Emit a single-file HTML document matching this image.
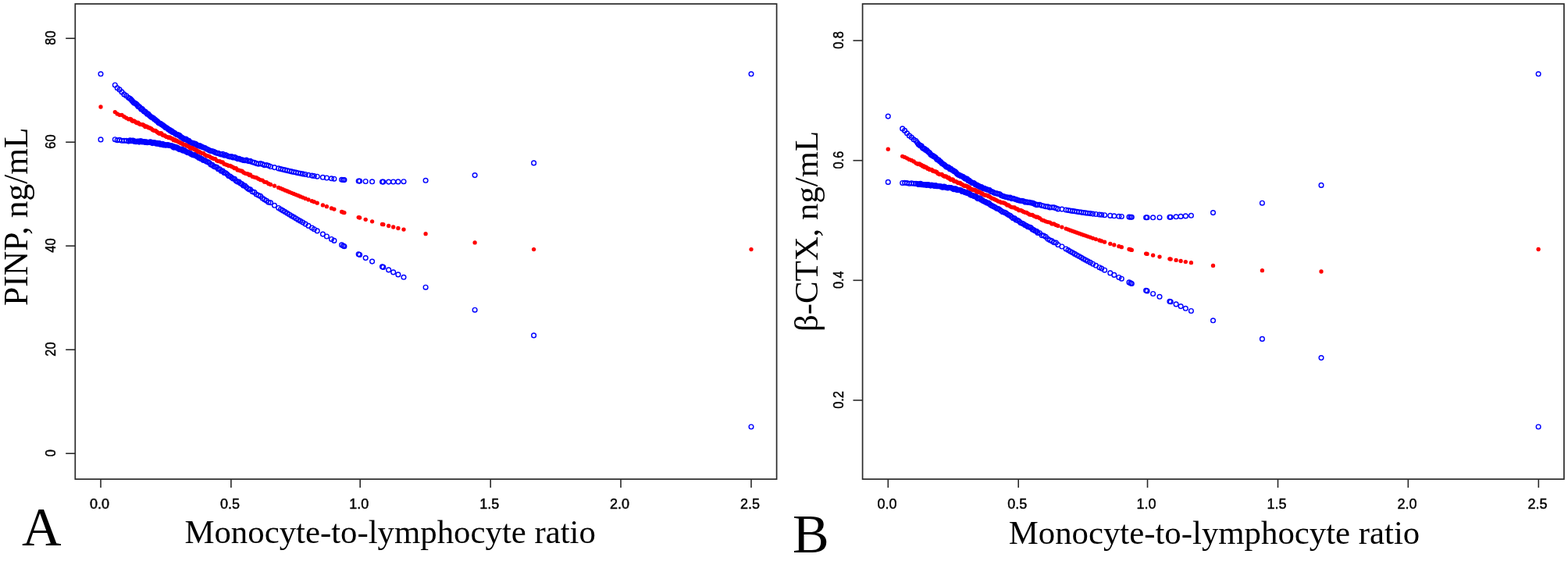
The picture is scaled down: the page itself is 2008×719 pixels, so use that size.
<!DOCTYPE html>
<html><head><meta charset="utf-8"><style>
html,body{margin:0;padding:0;background:#fff;}
body{width:2008px;height:719px;overflow:hidden;}
svg{display:block;}
.fr{fill:none;stroke:#2a2a2a;stroke-width:1.7;}
.tk{stroke:#2a2a2a;stroke-width:1.6;}
.xl{font-family:"Liberation Sans",Arial,sans-serif;font-size:18px;text-anchor:middle;fill:#000;stroke:#000;stroke-width:0.45;}
.yl{font-family:"Liberation Sans",Arial,sans-serif;font-size:18px;text-anchor:middle;fill:#000;stroke:#000;stroke-width:0.45;}
.ti{font-family:"Liberation Serif","Times New Roman",serif;font-size:43px;fill:#000;}
.lt{font-family:"Liberation Serif","Times New Roman",serif;font-size:70px;fill:#000;}
.bc{fill:none;stroke:#0000ff;stroke-width:1.4;}
.rd{fill:#ff0000;}
</style></head><body>
<svg width="2008" height="719" viewBox="0 0 2008 719">
<rect x="96.3" y="5.0" width="898.3" height="609.1" class="fr"/>
<line x1="129.0" y1="614.1" x2="129.0" y2="625" class="tk"/>
<text x="127.6" y="652" class="xl">0.0</text>
<line x1="295.9" y1="614.1" x2="295.9" y2="625" class="tk"/>
<text x="294.5" y="652" class="xl">0.5</text>
<line x1="461.2" y1="614.1" x2="461.2" y2="625" class="tk"/>
<text x="459.8" y="652" class="xl">1.0</text>
<line x1="628.2" y1="614.1" x2="628.2" y2="625" class="tk"/>
<text x="626.8" y="652" class="xl">1.5</text>
<line x1="795.0" y1="614.1" x2="795.0" y2="625" class="tk"/>
<text x="793.6" y="652" class="xl">2.0</text>
<line x1="962.0" y1="614.1" x2="962.0" y2="625" class="tk"/>
<text x="960.6" y="652" class="xl">2.5</text>
<line x1="84.2" y1="581.2" x2="96.3" y2="581.2" class="tk"/>
<text transform="translate(71.3 580.6) rotate(-90) scale(0.91 1)" class="yl">0</text>
<line x1="84.2" y1="448.2" x2="96.3" y2="448.2" class="tk"/>
<text transform="translate(71.3 447.6) rotate(-90) scale(0.91 1)" class="yl">20</text>
<line x1="84.2" y1="315.2" x2="96.3" y2="315.2" class="tk"/>
<text transform="translate(71.3 314.6) rotate(-90) scale(0.91 1)" class="yl">40</text>
<line x1="84.2" y1="182.2" x2="96.3" y2="182.2" class="tk"/>
<text transform="translate(71.3 181.6) rotate(-90) scale(0.91 1)" class="yl">60</text>
<line x1="84.2" y1="49.2" x2="96.3" y2="49.2" class="tk"/>
<text transform="translate(71.3 48.6) rotate(-90) scale(0.91 1)" class="yl">80</text>
<rect x="1104.6" y="5.0" width="898.3" height="609.1" class="fr"/>
<line x1="1137.3" y1="614.1" x2="1137.3" y2="625" class="tk"/>
<text x="1135.9" y="652" class="xl">0.0</text>
<line x1="1304.2" y1="614.1" x2="1304.2" y2="625" class="tk"/>
<text x="1302.8" y="652" class="xl">0.5</text>
<line x1="1469.5" y1="614.1" x2="1469.5" y2="625" class="tk"/>
<text x="1468.1" y="652" class="xl">1.0</text>
<line x1="1636.5" y1="614.1" x2="1636.5" y2="625" class="tk"/>
<text x="1635.1" y="652" class="xl">1.5</text>
<line x1="1803.3" y1="614.1" x2="1803.3" y2="625" class="tk"/>
<text x="1801.9" y="652" class="xl">2.0</text>
<line x1="1970.3" y1="614.1" x2="1970.3" y2="625" class="tk"/>
<text x="1968.9" y="652" class="xl">2.5</text>
<line x1="1092.5" y1="513.0" x2="1104.6" y2="513.0" class="tk"/>
<text transform="translate(1079.6 512.4) rotate(-90) scale(0.91 1)" class="yl">0.2</text>
<line x1="1092.5" y1="359.3" x2="1104.6" y2="359.3" class="tk"/>
<text transform="translate(1079.6 358.7) rotate(-90) scale(0.91 1)" class="yl">0.4</text>
<line x1="1092.5" y1="205.7" x2="1104.6" y2="205.7" class="tk"/>
<text transform="translate(1079.6 205.1) rotate(-90) scale(0.91 1)" class="yl">0.6</text>
<line x1="1092.5" y1="52.0" x2="1104.6" y2="52.0" class="tk"/>
<text transform="translate(1079.6 51.4) rotate(-90) scale(0.91 1)" class="yl">0.8</text>
<text class="ti" style="font-size:43.45px" transform="translate(34.8 392.0) rotate(-90)" textLength="94.4" lengthAdjust="spacingAndGlyphs">PINP</text>
<text class="ti" style="font-size:43.45px" transform="translate(34.8 301.0) rotate(-90)">, ng/mL</text>
<text class="ti" style="font-size:42.8px" transform="translate(1046.9 425) rotate(-90)">&#946;-CTX, ng/mL</text>
<text class="ti" style="font-size:42.8px" x="236.4" y="695.7">Monocyte-to-lymphocyte ratio</text>
<text class="ti" style="font-size:42.8px" x="1291.7" y="697.3">Monocyte-to-lymphocyte ratio</text>
<text class="lt" x="28" y="698.8">A</text>
<text class="lt" x="1015" y="707.6">B</text>
<g class="bc"><circle cx="147.3" cy="109.0" r="2.85"/><circle cx="150.2" cy="112.8" r="2.85"/><circle cx="153.1" cy="114.9" r="2.85"/><circle cx="156.0" cy="117.9" r="2.85"/><circle cx="158.9" cy="120.9" r="2.85"/><circle cx="161.8" cy="122.8" r="2.85"/><circle cx="164.6" cy="125.2" r="2.85"/><circle cx="166.5" cy="126.2" r="2.85"/><circle cx="167.8" cy="127.6" r="2.85"/><circle cx="169.1" cy="129.1" r="2.85"/><circle cx="170.4" cy="130.6" r="2.85"/><circle cx="171.7" cy="131.9" r="2.85"/><circle cx="173.0" cy="132.3" r="2.85"/><circle cx="174.3" cy="133.0" r="2.85"/><circle cx="175.6" cy="134.4" r="2.85"/><circle cx="176.9" cy="136.5" r="2.85"/><circle cx="178.2" cy="136.5" r="2.85"/><circle cx="179.5" cy="138.0" r="2.85"/><circle cx="180.8" cy="139.9" r="2.85"/><circle cx="182.1" cy="139.5" r="2.85"/><circle cx="183.4" cy="141.5" r="2.85"/><circle cx="184.7" cy="143.1" r="2.85"/><circle cx="186.0" cy="143.0" r="2.85"/><circle cx="187.3" cy="144.6" r="2.85"/><circle cx="188.6" cy="146.2" r="2.85"/><circle cx="189.9" cy="146.0" r="2.85"/><circle cx="191.2" cy="147.7" r="2.85"/><circle cx="192.5" cy="149.1" r="2.85"/><circle cx="193.8" cy="150.0" r="2.85"/><circle cx="195.1" cy="150.7" r="2.85"/><circle cx="196.4" cy="151.3" r="2.85"/><circle cx="197.7" cy="152.7" r="2.85"/><circle cx="199.0" cy="153.5" r="2.85"/><circle cx="200.3" cy="154.7" r="2.85"/><circle cx="201.6" cy="155.5" r="2.85"/><circle cx="202.9" cy="157.2" r="2.85"/><circle cx="204.2" cy="158.0" r="2.85"/><circle cx="205.5" cy="158.2" r="2.85"/><circle cx="206.8" cy="159.6" r="2.85"/><circle cx="208.1" cy="160.0" r="2.85"/><circle cx="209.4" cy="161.2" r="2.85"/><circle cx="210.7" cy="162.0" r="2.85"/><circle cx="212.0" cy="163.4" r="2.85"/><circle cx="213.3" cy="163.8" r="2.85"/><circle cx="214.6" cy="164.8" r="2.85"/><circle cx="215.9" cy="166.1" r="2.85"/><circle cx="217.2" cy="166.4" r="2.85"/><circle cx="218.5" cy="168.1" r="2.85"/><circle cx="219.8" cy="167.7" r="2.85"/><circle cx="221.1" cy="169.4" r="2.85"/><circle cx="222.4" cy="169.7" r="2.85"/><circle cx="223.7" cy="170.6" r="2.85"/><circle cx="225.0" cy="171.7" r="2.85"/><circle cx="226.3" cy="172.3" r="2.85"/><circle cx="227.6" cy="172.9" r="2.85"/><circle cx="228.9" cy="173.0" r="2.85"/><circle cx="230.2" cy="173.9" r="2.85"/><circle cx="231.5" cy="175.6" r="2.85"/><circle cx="232.8" cy="176.0" r="2.85"/><circle cx="234.1" cy="177.0" r="2.85"/><circle cx="235.4" cy="178.2" r="2.85"/><circle cx="236.7" cy="178.4" r="2.85"/><circle cx="238.0" cy="178.1" r="2.85"/><circle cx="239.3" cy="179.2" r="2.85"/><circle cx="240.6" cy="180.3" r="2.85"/><circle cx="241.9" cy="180.4" r="2.85"/><circle cx="243.2" cy="182.2" r="2.85"/><circle cx="244.5" cy="182.8" r="2.85"/><circle cx="245.8" cy="183.3" r="2.85"/><circle cx="247.1" cy="183.4" r="2.85"/><circle cx="248.4" cy="184.6" r="2.85"/><circle cx="249.7" cy="184.0" r="2.85"/><circle cx="251.0" cy="184.9" r="2.85"/><circle cx="252.3" cy="185.7" r="2.85"/><circle cx="253.6" cy="186.8" r="2.85"/><circle cx="254.9" cy="186.9" r="2.85"/><circle cx="256.2" cy="186.9" r="2.85"/><circle cx="257.5" cy="187.8" r="2.85"/><circle cx="258.8" cy="188.3" r="2.85"/><circle cx="260.5" cy="189.0" r="2.85"/><circle cx="262.4" cy="189.5" r="2.85"/><circle cx="264.3" cy="190.7" r="2.85"/><circle cx="266.2" cy="191.5" r="2.85"/><circle cx="268.1" cy="192.7" r="2.85"/><circle cx="270.0" cy="193.4" r="2.85"/><circle cx="271.9" cy="193.7" r="2.85"/><circle cx="273.8" cy="194.2" r="2.85"/><circle cx="275.7" cy="195.4" r="2.85"/><circle cx="277.6" cy="196.2" r="2.85"/><circle cx="279.5" cy="196.4" r="2.85"/><circle cx="281.4" cy="197.2" r="2.85"/><circle cx="283.3" cy="198.0" r="2.85"/><circle cx="285.2" cy="197.2" r="2.85"/><circle cx="287.1" cy="199.1" r="2.85"/><circle cx="289.0" cy="198.6" r="2.85"/><circle cx="290.9" cy="199.5" r="2.85"/><circle cx="292.8" cy="200.5" r="2.85"/><circle cx="294.7" cy="200.9" r="2.85"/><circle cx="296.6" cy="200.5" r="2.85"/><circle cx="298.5" cy="201.9" r="2.85"/><circle cx="300.4" cy="201.4" r="2.85"/><circle cx="302.3" cy="202.4" r="2.85"/><circle cx="304.2" cy="203.6" r="2.85"/><circle cx="306.1" cy="203.4" r="2.85"/><circle cx="308.0" cy="204.2" r="2.85"/><circle cx="309.9" cy="204.8" r="2.85"/><circle cx="311.8" cy="205.4" r="2.85"/><circle cx="313.7" cy="205.8" r="2.85"/><circle cx="315.6" cy="205.1" r="2.85"/><circle cx="317.5" cy="206.2" r="2.85"/><circle cx="319.4" cy="206.7" r="2.85"/><circle cx="320.5" cy="206.3" r="2.85"/><circle cx="323.1" cy="207.7" r="2.85"/><circle cx="325.7" cy="208.4" r="2.85"/><circle cx="328.3" cy="209.4" r="2.85"/><circle cx="330.9" cy="210.2" r="2.85"/><circle cx="333.5" cy="209.6" r="2.85"/><circle cx="336.1" cy="210.4" r="2.85"/><circle cx="338.7" cy="211.7" r="2.85"/><circle cx="341.3" cy="211.5" r="2.85"/><circle cx="343.9" cy="212.3" r="2.85"/><circle cx="346.5" cy="213.5" r="2.85"/><circle cx="351.5" cy="214.6" r="2.85"/><circle cx="356.7" cy="215.9" r="2.85"/><circle cx="359.5" cy="216.6" r="2.85"/><circle cx="362.3" cy="217.2" r="2.85"/><circle cx="365.1" cy="217.9" r="2.85"/><circle cx="367.9" cy="218.6" r="2.85"/><circle cx="370.7" cy="219.2" r="2.85"/><circle cx="373.5" cy="219.9" r="2.85"/><circle cx="376.3" cy="220.5" r="2.85"/><circle cx="379.1" cy="221.1" r="2.85"/><circle cx="381.9" cy="221.7" r="2.85"/><circle cx="384.7" cy="222.3" r="2.85"/><circle cx="387.8" cy="222.9" r="2.85"/><circle cx="391.1" cy="223.5" r="2.85"/><circle cx="395.0" cy="224.3" r="2.85"/><circle cx="399.5" cy="225.1" r="2.85"/><circle cx="402.3" cy="225.5" r="2.85"/><circle cx="406.2" cy="226.2" r="2.85"/><circle cx="413.4" cy="227.3" r="2.85"/><circle cx="418.4" cy="228.0" r="2.85"/><circle cx="424.5" cy="228.8" r="2.85"/><circle cx="427.9" cy="229.2" r="2.85"/><circle cx="437.6" cy="230.3" r="2.85"/><circle cx="439.6" cy="230.5" r="2.85"/><circle cx="440.9" cy="230.6" r="2.85"/><circle cx="459.2" cy="232.0" r="2.85"/><circle cx="460.6" cy="232.1" r="2.85"/><circle cx="468.2" cy="232.5" r="2.85"/><circle cx="476.6" cy="232.8" r="2.85"/><circle cx="489.5" cy="233.0" r="2.85"/><circle cx="490.8" cy="233.1" r="2.85"/><circle cx="497.7" cy="233.1" r="2.85"/><circle cx="503.7" cy="233.0" r="2.85"/><circle cx="509.9" cy="232.9" r="2.85"/><circle cx="517.0" cy="232.7" r="2.85"/><circle cx="545.1" cy="231.3" r="2.85"/><circle cx="129.0" cy="94.8" r="2.85"/><circle cx="608.1" cy="224.6" r="2.85"/><circle cx="683.6" cy="208.9" r="2.85"/><circle cx="962.0" cy="94.8" r="2.85"/><circle cx="147.3" cy="178.7" r="2.85"/><circle cx="150.2" cy="179.8" r="2.85"/><circle cx="153.1" cy="179.4" r="2.85"/><circle cx="156.0" cy="180.3" r="2.85"/><circle cx="158.9" cy="180.2" r="2.85"/><circle cx="161.8" cy="180.2" r="2.85"/><circle cx="164.6" cy="181.1" r="2.85"/><circle cx="166.5" cy="179.9" r="2.85"/><circle cx="167.8" cy="180.7" r="2.85"/><circle cx="169.1" cy="180.4" r="2.85"/><circle cx="170.4" cy="180.1" r="2.85"/><circle cx="171.7" cy="181.3" r="2.85"/><circle cx="173.0" cy="181.1" r="2.85"/><circle cx="174.3" cy="181.7" r="2.85"/><circle cx="175.6" cy="181.3" r="2.85"/><circle cx="176.9" cy="181.0" r="2.85"/><circle cx="178.2" cy="182.1" r="2.85"/><circle cx="179.5" cy="180.8" r="2.85"/><circle cx="180.8" cy="180.8" r="2.85"/><circle cx="182.1" cy="182.0" r="2.85"/><circle cx="183.4" cy="181.5" r="2.85"/><circle cx="184.7" cy="181.6" r="2.85"/><circle cx="186.0" cy="182.5" r="2.85"/><circle cx="187.3" cy="181.8" r="2.85"/><circle cx="188.6" cy="182.8" r="2.85"/><circle cx="189.9" cy="182.5" r="2.85"/><circle cx="191.2" cy="182.2" r="2.85"/><circle cx="192.5" cy="181.9" r="2.85"/><circle cx="193.8" cy="182.3" r="2.85"/><circle cx="195.1" cy="183.6" r="2.85"/><circle cx="196.4" cy="182.9" r="2.85"/><circle cx="197.7" cy="182.7" r="2.85"/><circle cx="199.0" cy="183.1" r="2.85"/><circle cx="200.3" cy="184.2" r="2.85"/><circle cx="201.6" cy="183.3" r="2.85"/><circle cx="202.9" cy="184.4" r="2.85"/><circle cx="204.2" cy="183.6" r="2.85"/><circle cx="205.5" cy="185.2" r="2.85"/><circle cx="206.8" cy="184.7" r="2.85"/><circle cx="208.1" cy="184.2" r="2.85"/><circle cx="209.4" cy="185.9" r="2.85"/><circle cx="210.7" cy="185.2" r="2.85"/><circle cx="212.0" cy="186.1" r="2.85"/><circle cx="213.3" cy="186.0" r="2.85"/><circle cx="214.6" cy="185.6" r="2.85"/><circle cx="215.9" cy="186.0" r="2.85"/><circle cx="217.2" cy="186.4" r="2.85"/><circle cx="218.5" cy="186.7" r="2.85"/><circle cx="219.8" cy="186.9" r="2.85"/><circle cx="221.1" cy="187.2" r="2.85"/><circle cx="222.4" cy="189.1" r="2.85"/><circle cx="223.7" cy="188.1" r="2.85"/><circle cx="225.0" cy="189.1" r="2.85"/><circle cx="226.3" cy="188.9" r="2.85"/><circle cx="227.6" cy="189.5" r="2.85"/><circle cx="228.9" cy="190.9" r="2.85"/><circle cx="230.2" cy="191.6" r="2.85"/><circle cx="231.5" cy="191.3" r="2.85"/><circle cx="232.8" cy="191.1" r="2.85"/><circle cx="234.1" cy="193.1" r="2.85"/><circle cx="235.4" cy="192.1" r="2.85"/><circle cx="236.7" cy="193.2" r="2.85"/><circle cx="238.0" cy="194.0" r="2.85"/><circle cx="239.3" cy="195.1" r="2.85"/><circle cx="240.6" cy="195.6" r="2.85"/><circle cx="241.9" cy="195.8" r="2.85"/><circle cx="243.2" cy="196.0" r="2.85"/><circle cx="244.5" cy="197.3" r="2.85"/><circle cx="245.8" cy="198.0" r="2.85"/><circle cx="247.1" cy="198.6" r="2.85"/><circle cx="248.4" cy="199.0" r="2.85"/><circle cx="249.7" cy="198.6" r="2.85"/><circle cx="251.0" cy="199.6" r="2.85"/><circle cx="252.3" cy="200.6" r="2.85"/><circle cx="253.6" cy="201.3" r="2.85"/><circle cx="254.9" cy="202.5" r="2.85"/><circle cx="256.2" cy="202.2" r="2.85"/><circle cx="257.5" cy="203.6" r="2.85"/><circle cx="258.8" cy="203.8" r="2.85"/><circle cx="260.5" cy="205.4" r="2.85"/><circle cx="262.4" cy="205.5" r="2.85"/><circle cx="264.3" cy="207.1" r="2.85"/><circle cx="266.2" cy="207.6" r="2.85"/><circle cx="268.1" cy="208.8" r="2.85"/><circle cx="270.0" cy="211.1" r="2.85"/><circle cx="271.9" cy="211.3" r="2.85"/><circle cx="273.8" cy="213.3" r="2.85"/><circle cx="275.7" cy="213.9" r="2.85"/><circle cx="277.6" cy="214.3" r="2.85"/><circle cx="279.5" cy="216.7" r="2.85"/><circle cx="281.4" cy="216.7" r="2.85"/><circle cx="283.3" cy="219.2" r="2.85"/><circle cx="285.2" cy="219.1" r="2.85"/><circle cx="287.1" cy="221.4" r="2.85"/><circle cx="289.0" cy="221.8" r="2.85"/><circle cx="290.9" cy="223.3" r="2.85"/><circle cx="292.8" cy="225.5" r="2.85"/><circle cx="294.7" cy="226.0" r="2.85"/><circle cx="296.6" cy="227.6" r="2.85"/><circle cx="298.5" cy="229.0" r="2.85"/><circle cx="300.4" cy="229.2" r="2.85"/><circle cx="302.3" cy="231.7" r="2.85"/><circle cx="304.2" cy="233.1" r="2.85"/><circle cx="306.1" cy="233.1" r="2.85"/><circle cx="308.0" cy="235.0" r="2.85"/><circle cx="309.9" cy="235.9" r="2.85"/><circle cx="311.8" cy="237.9" r="2.85"/><circle cx="313.7" cy="238.0" r="2.85"/><circle cx="315.6" cy="240.1" r="2.85"/><circle cx="317.5" cy="241.8" r="2.85"/><circle cx="319.4" cy="243.0" r="2.85"/><circle cx="320.5" cy="242.7" r="2.85"/><circle cx="323.1" cy="245.6" r="2.85"/><circle cx="325.7" cy="246.4" r="2.85"/><circle cx="328.3" cy="249.0" r="2.85"/><circle cx="330.9" cy="250.2" r="2.85"/><circle cx="333.5" cy="251.4" r="2.85"/><circle cx="336.1" cy="254.0" r="2.85"/><circle cx="338.7" cy="255.7" r="2.85"/><circle cx="341.3" cy="257.2" r="2.85"/><circle cx="343.9" cy="259.3" r="2.85"/><circle cx="346.5" cy="259.8" r="2.85"/><circle cx="351.5" cy="263.3" r="2.85"/><circle cx="356.7" cy="266.5" r="2.85"/><circle cx="359.5" cy="268.2" r="2.85"/><circle cx="362.3" cy="269.9" r="2.85"/><circle cx="365.1" cy="271.6" r="2.85"/><circle cx="367.9" cy="273.3" r="2.85"/><circle cx="370.7" cy="275.0" r="2.85"/><circle cx="373.5" cy="276.7" r="2.85"/><circle cx="376.3" cy="278.3" r="2.85"/><circle cx="379.1" cy="280.0" r="2.85"/><circle cx="381.9" cy="281.7" r="2.85"/><circle cx="384.7" cy="283.3" r="2.85"/><circle cx="387.8" cy="285.1" r="2.85"/><circle cx="391.1" cy="287.1" r="2.85"/><circle cx="395.0" cy="289.4" r="2.85"/><circle cx="399.5" cy="292.0" r="2.85"/><circle cx="402.3" cy="293.7" r="2.85"/><circle cx="406.2" cy="295.9" r="2.85"/><circle cx="413.4" cy="300.1" r="2.85"/><circle cx="418.4" cy="303.0" r="2.85"/><circle cx="424.5" cy="306.5" r="2.85"/><circle cx="427.9" cy="308.4" r="2.85"/><circle cx="437.6" cy="313.9" r="2.85"/><circle cx="439.6" cy="315.0" r="2.85"/><circle cx="440.9" cy="315.7" r="2.85"/><circle cx="459.2" cy="325.8" r="2.85"/><circle cx="460.6" cy="326.5" r="2.85"/><circle cx="468.2" cy="330.6" r="2.85"/><circle cx="476.6" cy="335.1" r="2.85"/><circle cx="489.5" cy="341.8" r="2.85"/><circle cx="490.8" cy="342.4" r="2.85"/><circle cx="497.7" cy="345.9" r="2.85"/><circle cx="503.7" cy="348.9" r="2.85"/><circle cx="509.9" cy="351.9" r="2.85"/><circle cx="517.0" cy="355.3" r="2.85"/><circle cx="545.1" cy="368.2" r="2.85"/><circle cx="129.0" cy="178.9" r="2.85"/><circle cx="608.1" cy="397.2" r="2.85"/><circle cx="683.6" cy="429.9" r="2.85"/><circle cx="962.0" cy="547.0" r="2.85"/><circle cx="1155.7" cy="164.9" r="2.85"/><circle cx="1158.6" cy="167.4" r="2.85"/><circle cx="1161.5" cy="170.8" r="2.85"/><circle cx="1164.4" cy="173.9" r="2.85"/><circle cx="1167.3" cy="176.1" r="2.85"/><circle cx="1170.2" cy="178.8" r="2.85"/><circle cx="1173.0" cy="180.6" r="2.85"/><circle cx="1174.9" cy="183.1" r="2.85"/><circle cx="1176.2" cy="184.9" r="2.85"/><circle cx="1177.5" cy="185.9" r="2.85"/><circle cx="1178.8" cy="186.9" r="2.85"/><circle cx="1180.1" cy="187.0" r="2.85"/><circle cx="1181.4" cy="189.4" r="2.85"/><circle cx="1182.7" cy="190.5" r="2.85"/><circle cx="1184.0" cy="190.5" r="2.85"/><circle cx="1185.3" cy="192.3" r="2.85"/><circle cx="1186.6" cy="192.4" r="2.85"/><circle cx="1187.9" cy="193.7" r="2.85"/><circle cx="1189.2" cy="195.1" r="2.85"/><circle cx="1190.5" cy="195.9" r="2.85"/><circle cx="1191.8" cy="197.9" r="2.85"/><circle cx="1193.1" cy="199.1" r="2.85"/><circle cx="1194.4" cy="199.4" r="2.85"/><circle cx="1195.7" cy="200.4" r="2.85"/><circle cx="1197.0" cy="201.1" r="2.85"/><circle cx="1198.3" cy="202.1" r="2.85"/><circle cx="1199.6" cy="204.1" r="2.85"/><circle cx="1200.9" cy="204.9" r="2.85"/><circle cx="1202.2" cy="205.0" r="2.85"/><circle cx="1203.5" cy="206.7" r="2.85"/><circle cx="1204.8" cy="207.6" r="2.85"/><circle cx="1206.1" cy="209.3" r="2.85"/><circle cx="1207.4" cy="210.0" r="2.85"/><circle cx="1208.7" cy="210.8" r="2.85"/><circle cx="1210.0" cy="211.7" r="2.85"/><circle cx="1211.3" cy="213.2" r="2.85"/><circle cx="1212.6" cy="214.2" r="2.85"/><circle cx="1213.9" cy="214.1" r="2.85"/><circle cx="1215.2" cy="214.9" r="2.85"/><circle cx="1216.5" cy="216.7" r="2.85"/><circle cx="1217.8" cy="216.4" r="2.85"/><circle cx="1219.1" cy="217.8" r="2.85"/><circle cx="1220.4" cy="218.2" r="2.85"/><circle cx="1221.7" cy="219.4" r="2.85"/><circle cx="1223.0" cy="219.9" r="2.85"/><circle cx="1224.3" cy="221.1" r="2.85"/><circle cx="1225.6" cy="222.8" r="2.85"/><circle cx="1226.9" cy="223.8" r="2.85"/><circle cx="1228.2" cy="224.4" r="2.85"/><circle cx="1229.5" cy="224.9" r="2.85"/><circle cx="1230.8" cy="225.8" r="2.85"/><circle cx="1232.1" cy="226.1" r="2.85"/><circle cx="1233.4" cy="226.6" r="2.85"/><circle cx="1234.7" cy="227.8" r="2.85"/><circle cx="1236.0" cy="229.1" r="2.85"/><circle cx="1237.3" cy="228.8" r="2.85"/><circle cx="1238.6" cy="229.4" r="2.85"/><circle cx="1239.9" cy="231.4" r="2.85"/><circle cx="1241.2" cy="231.4" r="2.85"/><circle cx="1242.5" cy="232.7" r="2.85"/><circle cx="1243.8" cy="233.5" r="2.85"/><circle cx="1245.1" cy="234.5" r="2.85"/><circle cx="1246.4" cy="234.4" r="2.85"/><circle cx="1247.7" cy="235.0" r="2.85"/><circle cx="1249.0" cy="236.4" r="2.85"/><circle cx="1250.3" cy="237.0" r="2.85"/><circle cx="1251.6" cy="237.4" r="2.85"/><circle cx="1252.9" cy="238.4" r="2.85"/><circle cx="1254.2" cy="238.7" r="2.85"/><circle cx="1255.5" cy="239.9" r="2.85"/><circle cx="1256.8" cy="239.5" r="2.85"/><circle cx="1258.1" cy="240.7" r="2.85"/><circle cx="1259.4" cy="241.7" r="2.85"/><circle cx="1260.7" cy="241.3" r="2.85"/><circle cx="1262.0" cy="242.3" r="2.85"/><circle cx="1263.3" cy="242.5" r="2.85"/><circle cx="1264.6" cy="243.2" r="2.85"/><circle cx="1265.9" cy="243.2" r="2.85"/><circle cx="1267.2" cy="243.6" r="2.85"/><circle cx="1268.9" cy="245.5" r="2.85"/><circle cx="1270.8" cy="245.8" r="2.85"/><circle cx="1272.7" cy="246.8" r="2.85"/><circle cx="1274.6" cy="247.7" r="2.85"/><circle cx="1276.5" cy="247.9" r="2.85"/><circle cx="1278.4" cy="248.5" r="2.85"/><circle cx="1280.3" cy="248.9" r="2.85"/><circle cx="1282.2" cy="250.5" r="2.85"/><circle cx="1284.1" cy="251.2" r="2.85"/><circle cx="1286.0" cy="251.7" r="2.85"/><circle cx="1287.9" cy="252.5" r="2.85"/><circle cx="1289.8" cy="252.7" r="2.85"/><circle cx="1291.7" cy="253.4" r="2.85"/><circle cx="1293.6" cy="253.1" r="2.85"/><circle cx="1295.5" cy="254.6" r="2.85"/><circle cx="1297.4" cy="254.4" r="2.85"/><circle cx="1299.3" cy="255.1" r="2.85"/><circle cx="1301.2" cy="255.5" r="2.85"/><circle cx="1303.1" cy="256.4" r="2.85"/><circle cx="1305.0" cy="257.0" r="2.85"/><circle cx="1306.9" cy="257.3" r="2.85"/><circle cx="1308.8" cy="257.4" r="2.85"/><circle cx="1310.7" cy="257.7" r="2.85"/><circle cx="1312.6" cy="259.1" r="2.85"/><circle cx="1314.5" cy="258.7" r="2.85"/><circle cx="1316.4" cy="259.4" r="2.85"/><circle cx="1318.3" cy="259.2" r="2.85"/><circle cx="1320.2" cy="260.0" r="2.85"/><circle cx="1322.1" cy="260.1" r="2.85"/><circle cx="1324.0" cy="260.9" r="2.85"/><circle cx="1325.9" cy="261.9" r="2.85"/><circle cx="1327.8" cy="262.7" r="2.85"/><circle cx="1328.9" cy="262.4" r="2.85"/><circle cx="1331.5" cy="262.3" r="2.85"/><circle cx="1334.1" cy="263.5" r="2.85"/><circle cx="1336.7" cy="264.0" r="2.85"/><circle cx="1339.3" cy="264.8" r="2.85"/><circle cx="1341.9" cy="264.9" r="2.85"/><circle cx="1344.5" cy="266.0" r="2.85"/><circle cx="1347.1" cy="265.7" r="2.85"/><circle cx="1349.7" cy="265.9" r="2.85"/><circle cx="1352.3" cy="266.8" r="2.85"/><circle cx="1354.9" cy="267.9" r="2.85"/><circle cx="1359.9" cy="268.1" r="2.85"/><circle cx="1365.1" cy="269.0" r="2.85"/><circle cx="1367.9" cy="269.5" r="2.85"/><circle cx="1370.7" cy="270.0" r="2.85"/><circle cx="1373.5" cy="270.4" r="2.85"/><circle cx="1376.3" cy="270.8" r="2.85"/><circle cx="1379.1" cy="271.3" r="2.85"/><circle cx="1381.9" cy="271.7" r="2.85"/><circle cx="1384.7" cy="272.1" r="2.85"/><circle cx="1387.5" cy="272.5" r="2.85"/><circle cx="1390.3" cy="272.9" r="2.85"/><circle cx="1393.1" cy="273.2" r="2.85"/><circle cx="1396.2" cy="273.6" r="2.85"/><circle cx="1399.5" cy="274.1" r="2.85"/><circle cx="1403.4" cy="274.5" r="2.85"/><circle cx="1407.9" cy="275.0" r="2.85"/><circle cx="1410.7" cy="275.3" r="2.85"/><circle cx="1414.6" cy="275.7" r="2.85"/><circle cx="1421.8" cy="276.4" r="2.85"/><circle cx="1426.8" cy="276.8" r="2.85"/><circle cx="1432.9" cy="277.3" r="2.85"/><circle cx="1436.3" cy="277.5" r="2.85"/><circle cx="1446.0" cy="278.1" r="2.85"/><circle cx="1448.0" cy="278.2" r="2.85"/><circle cx="1449.3" cy="278.2" r="2.85"/><circle cx="1467.6" cy="278.7" r="2.85"/><circle cx="1469.0" cy="278.8" r="2.85"/><circle cx="1476.6" cy="278.8" r="2.85"/><circle cx="1485.0" cy="278.7" r="2.85"/><circle cx="1497.9" cy="278.2" r="2.85"/><circle cx="1499.2" cy="278.2" r="2.85"/><circle cx="1506.1" cy="277.8" r="2.85"/><circle cx="1512.1" cy="277.4" r="2.85"/><circle cx="1518.3" cy="276.9" r="2.85"/><circle cx="1525.4" cy="276.3" r="2.85"/><circle cx="1553.5" cy="272.6" r="2.85"/><circle cx="1137.3" cy="149.1" r="2.85"/><circle cx="1616.4" cy="260.2" r="2.85"/><circle cx="1692.0" cy="237.4" r="2.85"/><circle cx="1970.1" cy="94.8" r="2.85"/><circle cx="1155.7" cy="234.5" r="2.85"/><circle cx="1158.6" cy="234.3" r="2.85"/><circle cx="1161.5" cy="234.6" r="2.85"/><circle cx="1164.4" cy="235.3" r="2.85"/><circle cx="1167.3" cy="234.9" r="2.85"/><circle cx="1170.2" cy="235.2" r="2.85"/><circle cx="1173.0" cy="235.4" r="2.85"/><circle cx="1174.9" cy="235.6" r="2.85"/><circle cx="1176.2" cy="236.5" r="2.85"/><circle cx="1177.5" cy="236.1" r="2.85"/><circle cx="1178.8" cy="235.4" r="2.85"/><circle cx="1180.1" cy="236.7" r="2.85"/><circle cx="1181.4" cy="236.4" r="2.85"/><circle cx="1182.7" cy="237.0" r="2.85"/><circle cx="1184.0" cy="236.7" r="2.85"/><circle cx="1185.3" cy="236.5" r="2.85"/><circle cx="1186.6" cy="237.5" r="2.85"/><circle cx="1187.9" cy="236.5" r="2.85"/><circle cx="1189.2" cy="236.9" r="2.85"/><circle cx="1190.5" cy="237.3" r="2.85"/><circle cx="1191.8" cy="238.1" r="2.85"/><circle cx="1193.1" cy="237.0" r="2.85"/><circle cx="1194.4" cy="237.5" r="2.85"/><circle cx="1195.7" cy="238.0" r="2.85"/><circle cx="1197.0" cy="238.4" r="2.85"/><circle cx="1198.3" cy="237.6" r="2.85"/><circle cx="1199.6" cy="238.8" r="2.85"/><circle cx="1200.9" cy="238.6" r="2.85"/><circle cx="1202.2" cy="238.7" r="2.85"/><circle cx="1203.5" cy="238.7" r="2.85"/><circle cx="1204.8" cy="238.7" r="2.85"/><circle cx="1206.1" cy="239.8" r="2.85"/><circle cx="1207.4" cy="240.2" r="2.85"/><circle cx="1208.7" cy="239.1" r="2.85"/><circle cx="1210.0" cy="239.3" r="2.85"/><circle cx="1211.3" cy="240.3" r="2.85"/><circle cx="1212.6" cy="240.6" r="2.85"/><circle cx="1213.9" cy="241.0" r="2.85"/><circle cx="1215.2" cy="240.4" r="2.85"/><circle cx="1216.5" cy="240.5" r="2.85"/><circle cx="1217.8" cy="240.5" r="2.85"/><circle cx="1219.1" cy="241.3" r="2.85"/><circle cx="1220.4" cy="241.9" r="2.85"/><circle cx="1221.7" cy="242.7" r="2.85"/><circle cx="1223.0" cy="241.7" r="2.85"/><circle cx="1224.3" cy="242.1" r="2.85"/><circle cx="1225.6" cy="243.4" r="2.85"/><circle cx="1226.9" cy="243.8" r="2.85"/><circle cx="1228.2" cy="243.3" r="2.85"/><circle cx="1229.5" cy="243.6" r="2.85"/><circle cx="1230.8" cy="244.0" r="2.85"/><circle cx="1232.1" cy="245.4" r="2.85"/><circle cx="1233.4" cy="245.3" r="2.85"/><circle cx="1234.7" cy="245.7" r="2.85"/><circle cx="1236.0" cy="246.8" r="2.85"/><circle cx="1237.3" cy="246.4" r="2.85"/><circle cx="1238.6" cy="247.6" r="2.85"/><circle cx="1239.9" cy="247.4" r="2.85"/><circle cx="1241.2" cy="247.9" r="2.85"/><circle cx="1242.5" cy="249.4" r="2.85"/><circle cx="1243.8" cy="250.2" r="2.85"/><circle cx="1245.1" cy="250.2" r="2.85"/><circle cx="1246.4" cy="250.7" r="2.85"/><circle cx="1247.7" cy="251.8" r="2.85"/><circle cx="1249.0" cy="251.4" r="2.85"/><circle cx="1250.3" cy="252.3" r="2.85"/><circle cx="1251.6" cy="254.0" r="2.85"/><circle cx="1252.9" cy="254.7" r="2.85"/><circle cx="1254.2" cy="253.8" r="2.85"/><circle cx="1255.5" cy="254.4" r="2.85"/><circle cx="1256.8" cy="256.3" r="2.85"/><circle cx="1258.1" cy="256.5" r="2.85"/><circle cx="1259.4" cy="257.7" r="2.85"/><circle cx="1260.7" cy="258.2" r="2.85"/><circle cx="1262.0" cy="258.5" r="2.85"/><circle cx="1263.3" cy="259.7" r="2.85"/><circle cx="1264.6" cy="260.2" r="2.85"/><circle cx="1265.9" cy="260.0" r="2.85"/><circle cx="1267.2" cy="261.4" r="2.85"/><circle cx="1268.9" cy="263.0" r="2.85"/><circle cx="1270.8" cy="263.9" r="2.85"/><circle cx="1272.7" cy="264.8" r="2.85"/><circle cx="1274.6" cy="265.8" r="2.85"/><circle cx="1276.5" cy="267.3" r="2.85"/><circle cx="1278.4" cy="267.5" r="2.85"/><circle cx="1280.3" cy="268.8" r="2.85"/><circle cx="1282.2" cy="270.3" r="2.85"/><circle cx="1284.1" cy="271.7" r="2.85"/><circle cx="1286.0" cy="272.0" r="2.85"/><circle cx="1287.9" cy="272.9" r="2.85"/><circle cx="1289.8" cy="274.2" r="2.85"/><circle cx="1291.7" cy="275.6" r="2.85"/><circle cx="1293.6" cy="276.2" r="2.85"/><circle cx="1295.5" cy="278.1" r="2.85"/><circle cx="1297.4" cy="279.7" r="2.85"/><circle cx="1299.3" cy="279.9" r="2.85"/><circle cx="1301.2" cy="282.0" r="2.85"/><circle cx="1303.1" cy="282.3" r="2.85"/><circle cx="1305.0" cy="283.6" r="2.85"/><circle cx="1306.9" cy="285.5" r="2.85"/><circle cx="1308.8" cy="286.2" r="2.85"/><circle cx="1310.7" cy="287.0" r="2.85"/><circle cx="1312.6" cy="288.5" r="2.85"/><circle cx="1314.5" cy="289.2" r="2.85"/><circle cx="1316.4" cy="290.7" r="2.85"/><circle cx="1318.3" cy="291.0" r="2.85"/><circle cx="1320.2" cy="291.9" r="2.85"/><circle cx="1322.1" cy="293.9" r="2.85"/><circle cx="1324.0" cy="294.9" r="2.85"/><circle cx="1325.9" cy="296.0" r="2.85"/><circle cx="1327.8" cy="296.5" r="2.85"/><circle cx="1328.9" cy="298.5" r="2.85"/><circle cx="1331.5" cy="298.7" r="2.85"/><circle cx="1334.1" cy="301.6" r="2.85"/><circle cx="1336.7" cy="302.1" r="2.85"/><circle cx="1339.3" cy="303.6" r="2.85"/><circle cx="1341.9" cy="306.2" r="2.85"/><circle cx="1344.5" cy="307.8" r="2.85"/><circle cx="1347.1" cy="308.9" r="2.85"/><circle cx="1349.7" cy="310.8" r="2.85"/><circle cx="1352.3" cy="311.1" r="2.85"/><circle cx="1354.9" cy="313.7" r="2.85"/><circle cx="1359.9" cy="316.0" r="2.85"/><circle cx="1365.1" cy="319.0" r="2.85"/><circle cx="1367.9" cy="320.6" r="2.85"/><circle cx="1370.7" cy="322.2" r="2.85"/><circle cx="1373.5" cy="323.8" r="2.85"/><circle cx="1376.3" cy="325.4" r="2.85"/><circle cx="1379.1" cy="327.0" r="2.85"/><circle cx="1381.9" cy="328.5" r="2.85"/><circle cx="1384.7" cy="330.1" r="2.85"/><circle cx="1387.5" cy="331.7" r="2.85"/><circle cx="1390.3" cy="333.2" r="2.85"/><circle cx="1393.1" cy="334.7" r="2.85"/><circle cx="1396.2" cy="336.4" r="2.85"/><circle cx="1399.5" cy="338.2" r="2.85"/><circle cx="1403.4" cy="340.3" r="2.85"/><circle cx="1407.9" cy="342.7" r="2.85"/><circle cx="1410.7" cy="344.1" r="2.85"/><circle cx="1414.6" cy="346.2" r="2.85"/><circle cx="1421.8" cy="349.9" r="2.85"/><circle cx="1426.8" cy="352.4" r="2.85"/><circle cx="1432.9" cy="355.5" r="2.85"/><circle cx="1436.3" cy="357.2" r="2.85"/><circle cx="1446.0" cy="361.9" r="2.85"/><circle cx="1448.0" cy="362.9" r="2.85"/><circle cx="1449.3" cy="363.5" r="2.85"/><circle cx="1467.6" cy="372.3" r="2.85"/><circle cx="1469.0" cy="372.9" r="2.85"/><circle cx="1476.6" cy="376.5" r="2.85"/><circle cx="1485.0" cy="380.3" r="2.85"/><circle cx="1497.9" cy="386.2" r="2.85"/><circle cx="1499.2" cy="386.8" r="2.85"/><circle cx="1506.1" cy="389.9" r="2.85"/><circle cx="1512.1" cy="392.6" r="2.85"/><circle cx="1518.3" cy="395.3" r="2.85"/><circle cx="1525.4" cy="398.5" r="2.85"/><circle cx="1553.5" cy="410.8" r="2.85"/><circle cx="1137.3" cy="233.4" r="2.85"/><circle cx="1616.4" cy="434.4" r="2.85"/><circle cx="1692.0" cy="458.6" r="2.85"/><circle cx="1970.1" cy="547.0" r="2.85"/></g>
<g class="rd"><circle cx="147.3" cy="143.6" r="2.65"/><circle cx="150.2" cy="145.9" r="2.65"/><circle cx="153.1" cy="147.3" r="2.65"/><circle cx="156.0" cy="147.3" r="2.65"/><circle cx="158.9" cy="149.5" r="2.65"/><circle cx="161.8" cy="151.2" r="2.65"/><circle cx="164.6" cy="152.8" r="2.65"/><circle cx="166.5" cy="152.5" r="2.65"/><circle cx="167.8" cy="153.0" r="2.65"/><circle cx="169.1" cy="154.7" r="2.65"/><circle cx="170.4" cy="155.4" r="2.65"/><circle cx="171.7" cy="154.8" r="2.65"/><circle cx="173.0" cy="155.8" r="2.65"/><circle cx="174.3" cy="156.9" r="2.65"/><circle cx="175.6" cy="157.7" r="2.65"/><circle cx="176.9" cy="157.2" r="2.65"/><circle cx="178.2" cy="158.6" r="2.65"/><circle cx="179.5" cy="159.4" r="2.65"/><circle cx="180.8" cy="159.6" r="2.65"/><circle cx="182.1" cy="159.6" r="2.65"/><circle cx="183.4" cy="160.0" r="2.65"/><circle cx="184.7" cy="161.0" r="2.65"/><circle cx="186.0" cy="162.5" r="2.65"/><circle cx="187.3" cy="161.8" r="2.65"/><circle cx="188.6" cy="162.4" r="2.65"/><circle cx="189.9" cy="163.6" r="2.65"/><circle cx="191.2" cy="163.7" r="2.65"/><circle cx="192.5" cy="164.4" r="2.65"/><circle cx="193.8" cy="164.8" r="2.65"/><circle cx="195.1" cy="166.3" r="2.65"/><circle cx="196.4" cy="167.1" r="2.65"/><circle cx="197.7" cy="167.3" r="2.65"/><circle cx="199.0" cy="167.5" r="2.65"/><circle cx="200.3" cy="168.4" r="2.65"/><circle cx="201.6" cy="169.4" r="2.65"/><circle cx="202.9" cy="170.6" r="2.65"/><circle cx="204.2" cy="171.3" r="2.65"/><circle cx="205.5" cy="170.7" r="2.65"/><circle cx="206.8" cy="170.9" r="2.65"/><circle cx="208.1" cy="172.9" r="2.65"/><circle cx="209.4" cy="173.6" r="2.65"/><circle cx="210.7" cy="173.5" r="2.65"/><circle cx="212.0" cy="174.6" r="2.65"/><circle cx="213.3" cy="175.4" r="2.65"/><circle cx="214.6" cy="175.6" r="2.65"/><circle cx="215.9" cy="176.6" r="2.65"/><circle cx="217.2" cy="175.9" r="2.65"/><circle cx="218.5" cy="176.9" r="2.65"/><circle cx="219.8" cy="177.5" r="2.65"/><circle cx="221.1" cy="177.9" r="2.65"/><circle cx="222.4" cy="179.7" r="2.65"/><circle cx="223.7" cy="178.9" r="2.65"/><circle cx="225.0" cy="180.6" r="2.65"/><circle cx="226.3" cy="180.2" r="2.65"/><circle cx="227.6" cy="181.3" r="2.65"/><circle cx="228.9" cy="182.0" r="2.65"/><circle cx="230.2" cy="182.3" r="2.65"/><circle cx="231.5" cy="183.4" r="2.65"/><circle cx="232.8" cy="184.0" r="2.65"/><circle cx="234.1" cy="184.3" r="2.65"/><circle cx="235.4" cy="185.6" r="2.65"/><circle cx="236.7" cy="185.3" r="2.65"/><circle cx="238.0" cy="186.0" r="2.65"/><circle cx="239.3" cy="186.8" r="2.65"/><circle cx="240.6" cy="187.5" r="2.65"/><circle cx="241.9" cy="187.8" r="2.65"/><circle cx="243.2" cy="189.6" r="2.65"/><circle cx="244.5" cy="190.0" r="2.65"/><circle cx="245.8" cy="189.5" r="2.65"/><circle cx="247.1" cy="190.5" r="2.65"/><circle cx="248.4" cy="190.9" r="2.65"/><circle cx="249.7" cy="191.9" r="2.65"/><circle cx="251.0" cy="192.2" r="2.65"/><circle cx="252.3" cy="193.2" r="2.65"/><circle cx="253.6" cy="194.5" r="2.65"/><circle cx="254.9" cy="194.2" r="2.65"/><circle cx="256.2" cy="195.3" r="2.65"/><circle cx="257.5" cy="195.8" r="2.65"/><circle cx="258.8" cy="196.6" r="2.65"/><circle cx="260.5" cy="196.3" r="2.65"/><circle cx="262.4" cy="198.3" r="2.65"/><circle cx="264.3" cy="199.5" r="2.65"/><circle cx="266.2" cy="199.9" r="2.65"/><circle cx="268.1" cy="200.3" r="2.65"/><circle cx="270.0" cy="201.8" r="2.65"/><circle cx="271.9" cy="202.7" r="2.65"/><circle cx="273.8" cy="203.5" r="2.65"/><circle cx="275.7" cy="203.6" r="2.65"/><circle cx="277.6" cy="205.8" r="2.65"/><circle cx="279.5" cy="206.6" r="2.65"/><circle cx="281.4" cy="206.7" r="2.65"/><circle cx="283.3" cy="207.8" r="2.65"/><circle cx="285.2" cy="207.8" r="2.65"/><circle cx="287.1" cy="210.2" r="2.65"/><circle cx="289.0" cy="210.8" r="2.65"/><circle cx="290.9" cy="211.4" r="2.65"/><circle cx="292.8" cy="212.5" r="2.65"/><circle cx="294.7" cy="212.4" r="2.65"/><circle cx="296.6" cy="213.5" r="2.65"/><circle cx="298.5" cy="214.3" r="2.65"/><circle cx="300.4" cy="215.7" r="2.65"/><circle cx="302.3" cy="215.7" r="2.65"/><circle cx="304.2" cy="217.9" r="2.65"/><circle cx="306.1" cy="218.1" r="2.65"/><circle cx="308.0" cy="218.9" r="2.65"/><circle cx="309.9" cy="219.2" r="2.65"/><circle cx="311.8" cy="221.0" r="2.65"/><circle cx="313.7" cy="222.1" r="2.65"/><circle cx="315.6" cy="222.6" r="2.65"/><circle cx="317.5" cy="222.9" r="2.65"/><circle cx="319.4" cy="224.6" r="2.65"/><circle cx="320.5" cy="224.0" r="2.65"/><circle cx="323.1" cy="226.3" r="2.65"/><circle cx="325.7" cy="227.1" r="2.65"/><circle cx="328.3" cy="227.7" r="2.65"/><circle cx="330.9" cy="229.2" r="2.65"/><circle cx="333.5" cy="230.6" r="2.65"/><circle cx="336.1" cy="231.1" r="2.65"/><circle cx="338.7" cy="233.2" r="2.65"/><circle cx="341.3" cy="233.6" r="2.65"/><circle cx="343.9" cy="235.5" r="2.65"/><circle cx="346.5" cy="236.5" r="2.65"/><circle cx="351.5" cy="238.2" r="2.65"/><circle cx="356.7" cy="240.4" r="2.65"/><circle cx="359.5" cy="241.5" r="2.65"/><circle cx="362.3" cy="242.7" r="2.65"/><circle cx="365.1" cy="243.9" r="2.65"/><circle cx="367.9" cy="245.0" r="2.65"/><circle cx="370.7" cy="246.2" r="2.65"/><circle cx="373.5" cy="247.3" r="2.65"/><circle cx="376.3" cy="248.5" r="2.65"/><circle cx="379.1" cy="249.6" r="2.65"/><circle cx="381.9" cy="250.7" r="2.65"/><circle cx="384.7" cy="251.9" r="2.65"/><circle cx="387.8" cy="253.1" r="2.65"/><circle cx="391.1" cy="254.4" r="2.65"/><circle cx="395.0" cy="255.9" r="2.65"/><circle cx="399.5" cy="257.7" r="2.65"/><circle cx="402.3" cy="258.7" r="2.65"/><circle cx="406.2" cy="260.2" r="2.65"/><circle cx="413.4" cy="262.9" r="2.65"/><circle cx="418.4" cy="264.7" r="2.65"/><circle cx="424.5" cy="266.9" r="2.65"/><circle cx="427.9" cy="268.1" r="2.65"/><circle cx="437.6" cy="271.5" r="2.65"/><circle cx="439.6" cy="272.2" r="2.65"/><circle cx="440.9" cy="272.6" r="2.65"/><circle cx="459.2" cy="278.6" r="2.65"/><circle cx="460.6" cy="279.0" r="2.65"/><circle cx="468.2" cy="281.3" r="2.65"/><circle cx="476.6" cy="283.8" r="2.65"/><circle cx="489.5" cy="287.4" r="2.65"/><circle cx="490.8" cy="287.7" r="2.65"/><circle cx="497.7" cy="289.5" r="2.65"/><circle cx="503.7" cy="291.0" r="2.65"/><circle cx="509.9" cy="292.5" r="2.65"/><circle cx="517.0" cy="294.1" r="2.65"/><circle cx="545.1" cy="299.7" r="2.65"/><circle cx="129.0" cy="137.0" r="2.65"/><circle cx="608.1" cy="310.9" r="2.65"/><circle cx="683.6" cy="319.6" r="2.65"/><circle cx="962.0" cy="319.6" r="2.65"/><circle cx="1155.7" cy="200.3" r="2.65"/><circle cx="1158.6" cy="201.4" r="2.65"/><circle cx="1161.5" cy="202.8" r="2.65"/><circle cx="1164.4" cy="204.4" r="2.65"/><circle cx="1167.3" cy="205.5" r="2.65"/><circle cx="1170.2" cy="207.0" r="2.65"/><circle cx="1173.0" cy="209.1" r="2.65"/><circle cx="1174.9" cy="209.9" r="2.65"/><circle cx="1176.2" cy="210.4" r="2.65"/><circle cx="1177.5" cy="209.9" r="2.65"/><circle cx="1178.8" cy="211.2" r="2.65"/><circle cx="1180.1" cy="211.5" r="2.65"/><circle cx="1181.4" cy="213.0" r="2.65"/><circle cx="1182.7" cy="212.7" r="2.65"/><circle cx="1184.0" cy="214.3" r="2.65"/><circle cx="1185.3" cy="213.8" r="2.65"/><circle cx="1186.6" cy="214.7" r="2.65"/><circle cx="1187.9" cy="216.2" r="2.65"/><circle cx="1189.2" cy="216.2" r="2.65"/><circle cx="1190.5" cy="217.4" r="2.65"/><circle cx="1191.8" cy="217.4" r="2.65"/><circle cx="1193.1" cy="217.5" r="2.65"/><circle cx="1194.4" cy="218.9" r="2.65"/><circle cx="1195.7" cy="219.2" r="2.65"/><circle cx="1197.0" cy="219.8" r="2.65"/><circle cx="1198.3" cy="219.8" r="2.65"/><circle cx="1199.6" cy="220.5" r="2.65"/><circle cx="1200.9" cy="222.3" r="2.65"/><circle cx="1202.2" cy="223.0" r="2.65"/><circle cx="1203.5" cy="223.6" r="2.65"/><circle cx="1204.8" cy="223.3" r="2.65"/><circle cx="1206.1" cy="223.4" r="2.65"/><circle cx="1207.4" cy="224.8" r="2.65"/><circle cx="1208.7" cy="225.7" r="2.65"/><circle cx="1210.0" cy="226.2" r="2.65"/><circle cx="1211.3" cy="225.9" r="2.65"/><circle cx="1212.6" cy="226.8" r="2.65"/><circle cx="1213.9" cy="228.1" r="2.65"/><circle cx="1215.2" cy="227.7" r="2.65"/><circle cx="1216.5" cy="229.6" r="2.65"/><circle cx="1217.8" cy="230.4" r="2.65"/><circle cx="1219.1" cy="229.9" r="2.65"/><circle cx="1220.4" cy="230.2" r="2.65"/><circle cx="1221.7" cy="232.3" r="2.65"/><circle cx="1223.0" cy="232.5" r="2.65"/><circle cx="1224.3" cy="232.6" r="2.65"/><circle cx="1225.6" cy="233.3" r="2.65"/><circle cx="1226.9" cy="234.6" r="2.65"/><circle cx="1228.2" cy="234.3" r="2.65"/><circle cx="1229.5" cy="234.4" r="2.65"/><circle cx="1230.8" cy="235.9" r="2.65"/><circle cx="1232.1" cy="236.1" r="2.65"/><circle cx="1233.4" cy="237.3" r="2.65"/><circle cx="1234.7" cy="238.3" r="2.65"/><circle cx="1236.0" cy="238.0" r="2.65"/><circle cx="1237.3" cy="238.4" r="2.65"/><circle cx="1238.6" cy="238.7" r="2.65"/><circle cx="1239.9" cy="240.5" r="2.65"/><circle cx="1241.2" cy="239.9" r="2.65"/><circle cx="1242.5" cy="241.9" r="2.65"/><circle cx="1243.8" cy="242.1" r="2.65"/><circle cx="1245.1" cy="243.0" r="2.65"/><circle cx="1246.4" cy="243.5" r="2.65"/><circle cx="1247.7" cy="243.1" r="2.65"/><circle cx="1249.0" cy="243.7" r="2.65"/><circle cx="1250.3" cy="245.5" r="2.65"/><circle cx="1251.6" cy="245.0" r="2.65"/><circle cx="1252.9" cy="246.4" r="2.65"/><circle cx="1254.2" cy="246.0" r="2.65"/><circle cx="1255.5" cy="246.8" r="2.65"/><circle cx="1256.8" cy="248.0" r="2.65"/><circle cx="1258.1" cy="247.9" r="2.65"/><circle cx="1259.4" cy="249.3" r="2.65"/><circle cx="1260.7" cy="250.1" r="2.65"/><circle cx="1262.0" cy="249.8" r="2.65"/><circle cx="1263.3" cy="250.4" r="2.65"/><circle cx="1264.6" cy="250.5" r="2.65"/><circle cx="1265.9" cy="251.7" r="2.65"/><circle cx="1267.2" cy="251.8" r="2.65"/><circle cx="1268.9" cy="253.3" r="2.65"/><circle cx="1270.8" cy="254.4" r="2.65"/><circle cx="1272.7" cy="255.0" r="2.65"/><circle cx="1274.6" cy="255.9" r="2.65"/><circle cx="1276.5" cy="256.8" r="2.65"/><circle cx="1278.4" cy="258.1" r="2.65"/><circle cx="1280.3" cy="258.3" r="2.65"/><circle cx="1282.2" cy="259.7" r="2.65"/><circle cx="1284.1" cy="259.7" r="2.65"/><circle cx="1286.0" cy="260.2" r="2.65"/><circle cx="1287.9" cy="261.2" r="2.65"/><circle cx="1289.8" cy="262.9" r="2.65"/><circle cx="1291.7" cy="262.9" r="2.65"/><circle cx="1293.6" cy="264.6" r="2.65"/><circle cx="1295.5" cy="265.6" r="2.65"/><circle cx="1297.4" cy="265.8" r="2.65"/><circle cx="1299.3" cy="266.0" r="2.65"/><circle cx="1301.2" cy="267.6" r="2.65"/><circle cx="1303.1" cy="268.0" r="2.65"/><circle cx="1305.0" cy="269.7" r="2.65"/><circle cx="1306.9" cy="269.4" r="2.65"/><circle cx="1308.8" cy="270.2" r="2.65"/><circle cx="1310.7" cy="271.4" r="2.65"/><circle cx="1312.6" cy="272.2" r="2.65"/><circle cx="1314.5" cy="272.5" r="2.65"/><circle cx="1316.4" cy="273.6" r="2.65"/><circle cx="1318.3" cy="274.9" r="2.65"/><circle cx="1320.2" cy="275.3" r="2.65"/><circle cx="1322.1" cy="275.5" r="2.65"/><circle cx="1324.0" cy="276.8" r="2.65"/><circle cx="1325.9" cy="277.6" r="2.65"/><circle cx="1327.8" cy="278.4" r="2.65"/><circle cx="1328.9" cy="278.2" r="2.65"/><circle cx="1331.5" cy="279.7" r="2.65"/><circle cx="1334.1" cy="281.8" r="2.65"/><circle cx="1336.7" cy="282.7" r="2.65"/><circle cx="1339.3" cy="283.8" r="2.65"/><circle cx="1341.9" cy="284.6" r="2.65"/><circle cx="1344.5" cy="285.1" r="2.65"/><circle cx="1347.1" cy="286.9" r="2.65"/><circle cx="1349.7" cy="286.9" r="2.65"/><circle cx="1352.3" cy="288.4" r="2.65"/><circle cx="1354.9" cy="289.4" r="2.65"/><circle cx="1359.9" cy="291.1" r="2.65"/><circle cx="1365.1" cy="293.1" r="2.65"/><circle cx="1367.9" cy="294.1" r="2.65"/><circle cx="1370.7" cy="295.2" r="2.65"/><circle cx="1373.5" cy="296.2" r="2.65"/><circle cx="1376.3" cy="297.2" r="2.65"/><circle cx="1379.1" cy="298.2" r="2.65"/><circle cx="1381.9" cy="299.2" r="2.65"/><circle cx="1384.7" cy="300.2" r="2.65"/><circle cx="1387.5" cy="301.2" r="2.65"/><circle cx="1390.3" cy="302.1" r="2.65"/><circle cx="1393.1" cy="303.1" r="2.65"/><circle cx="1396.2" cy="304.1" r="2.65"/><circle cx="1399.5" cy="305.3" r="2.65"/><circle cx="1403.4" cy="306.6" r="2.65"/><circle cx="1407.9" cy="308.0" r="2.65"/><circle cx="1410.7" cy="308.9" r="2.65"/><circle cx="1414.6" cy="310.2" r="2.65"/><circle cx="1421.8" cy="312.4" r="2.65"/><circle cx="1426.8" cy="313.9" r="2.65"/><circle cx="1432.9" cy="315.7" r="2.65"/><circle cx="1436.3" cy="316.7" r="2.65"/><circle cx="1446.0" cy="319.5" r="2.65"/><circle cx="1448.0" cy="320.0" r="2.65"/><circle cx="1449.3" cy="320.4" r="2.65"/><circle cx="1467.6" cy="325.1" r="2.65"/><circle cx="1469.0" cy="325.4" r="2.65"/><circle cx="1476.6" cy="327.2" r="2.65"/><circle cx="1485.0" cy="329.1" r="2.65"/><circle cx="1497.9" cy="331.8" r="2.65"/><circle cx="1499.2" cy="332.1" r="2.65"/><circle cx="1506.1" cy="333.4" r="2.65"/><circle cx="1512.1" cy="334.5" r="2.65"/><circle cx="1518.3" cy="335.6" r="2.65"/><circle cx="1525.4" cy="336.7" r="2.65"/><circle cx="1553.5" cy="340.4" r="2.65"/><circle cx="1137.3" cy="191.2" r="2.65"/><circle cx="1616.4" cy="346.7" r="2.65"/><circle cx="1692.0" cy="348.0" r="2.65"/><circle cx="1970.1" cy="319.5" r="2.65"/></g>
</svg>
</body></html>
